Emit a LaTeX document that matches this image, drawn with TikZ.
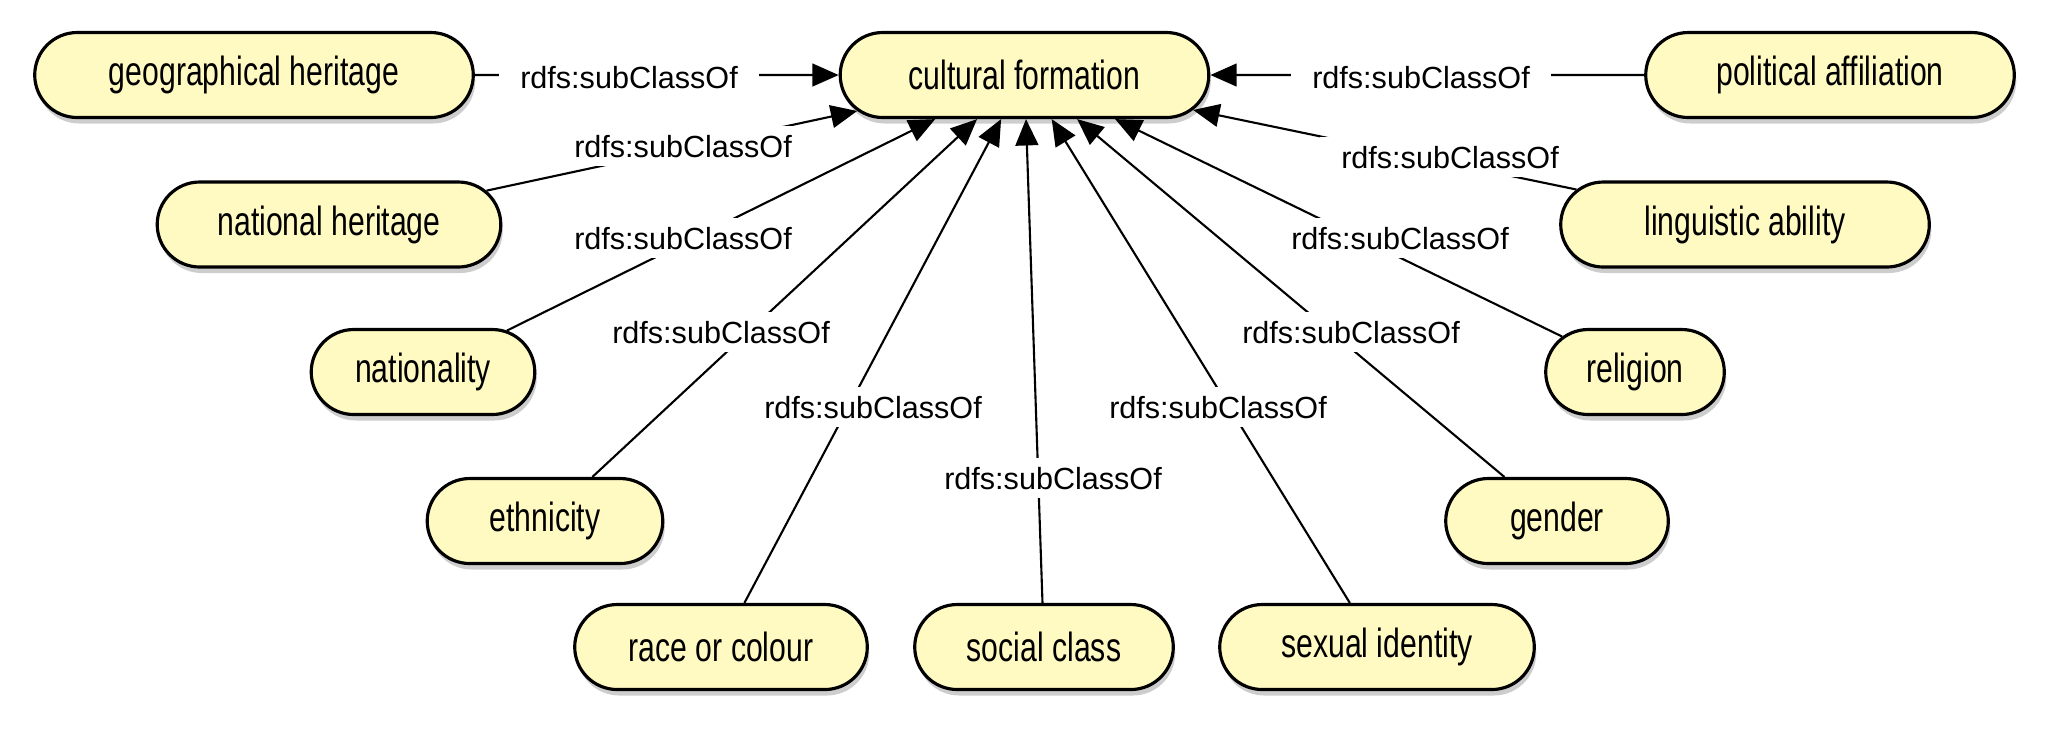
\documentclass[tikz,border=0pt]{standalone}
\usepackage{fontspec}
\setmainfont{Liberation Sans}
\newfontfamily\classfont{Liberation Sans}[FakeStretch=0.74]
\usepackage{tikz}
\usetikzlibrary{arrows.meta,shapes.misc,shadows}
\usepackage{xcolor}
\definecolor{cfyellow}{RGB}{255,250,194}
\definecolor{cfshadow}{RGB}{90,90,90}
\tikzstyle{arrow} = [line width=0.6pt,-{Triangle[length=7.5pt,width=6.5pt]}]
\tikzstyle{classbox} = [rounded rectangle, minimum height=0.85cm, text centered, draw=black, fill=cfyellow, line width=0.9pt, drop shadow={shadow xshift=0.02cm, shadow yshift=-0.06cm, opacity=0.3, fill=cfshadow}, font=\classfont\fontsize{11.6}{13}\selectfont]
\tikzstyle{relation} = [fill=white, inner xsep=6pt, inner ysep=2.5pt, text height=6.3pt, text depth=0pt, font=\fontsize{8.7}{10}\selectfont]

\begin{document}
\begin{tikzpicture}
\useasboundingbox (0,0) rectangle (20.5,-7.32);
% Classes
\node[classbox, minimum width=3.92cm] (culture) at (10.245,-0.75) {cultural formation};
\node[classbox, minimum width=4.62cm] (geo) at (2.54,-0.75) {geographical heritage};
\node[classbox, minimum width=3.92cm] (politics) at (18.30,-0.75) {political affiliation};
\node[classbox, minimum width=3.67cm] (heritage) at (3.29,-2.245) {national heritage};
\node[classbox, minimum width=3.92cm] (language) at (17.45,-2.245) {linguistic ability};
\node[classbox, minimum width=2.47cm] (nationality) at (4.23,-3.72) {nationality};
\node[classbox, minimum width=2.02cm] (religion) at (16.35,-3.72) {religion};
\node[classbox, minimum width=2.59cm] (ethnicity) at (5.45,-5.21) {ethnicity};
\node[classbox, minimum width=2.46cm] (gender) at (15.57,-5.21) {gender};
\node[classbox, minimum width=3.16cm] (race) at (7.21,-6.47) {race or colour};
\node[classbox, minimum width=2.82cm] (class) at (10.44,-6.47) {social class};
\node[classbox, minimum width=3.38cm] (sexuality) at (13.77,-6.47) {sexual identity};

% Links
\draw[arrow] (geo) -- (culture);
\draw[arrow] (politics) -- (culture);
\draw[arrow] (heritage) -- (culture);
\draw[arrow] (language) -- (culture);
\draw[arrow] (nationality) -- (culture);
\draw[arrow] (religion) -- (culture);
\draw[arrow] (ethnicity) -- (culture);
\draw[arrow] (gender) -- (culture);
\draw[arrow] (race) -- (culture);
\draw[arrow] (class) -- (culture);
\draw[arrow] (sexuality) -- (culture);

% Labels on the links
\node[relation] (rgeo) at (6.29,-0.77) {rdfs:subClassOf};
\node[relation] (rpolitics) at (14.21,-0.77) {rdfs:subClassOf};
\node[relation] (rheritage) at (6.83,-1.46) {rdfs:subClassOf};
\node[relation] (rlanguage) at (14.50,-1.57) {rdfs:subClassOf};
\node[relation] (rnationality) at (6.83,-2.38) {rdfs:subClassOf};
\node[relation] (rreligion) at (14.00,-2.38) {rdfs:subClassOf};
\node[relation] (rethnicity) at (7.21,-3.32) {rdfs:subClassOf};
\node[relation] (rgender) at (13.51,-3.32) {rdfs:subClassOf};
\node[relation] (rrace) at (8.73,-4.07) {rdfs:subClassOf};
\node[relation] (rsexuality) at (12.18,-4.07) {rdfs:subClassOf};
\node[relation] (rclass) at (10.53,-4.78) {rdfs:subClassOf};
\end{tikzpicture}
\end{document}
